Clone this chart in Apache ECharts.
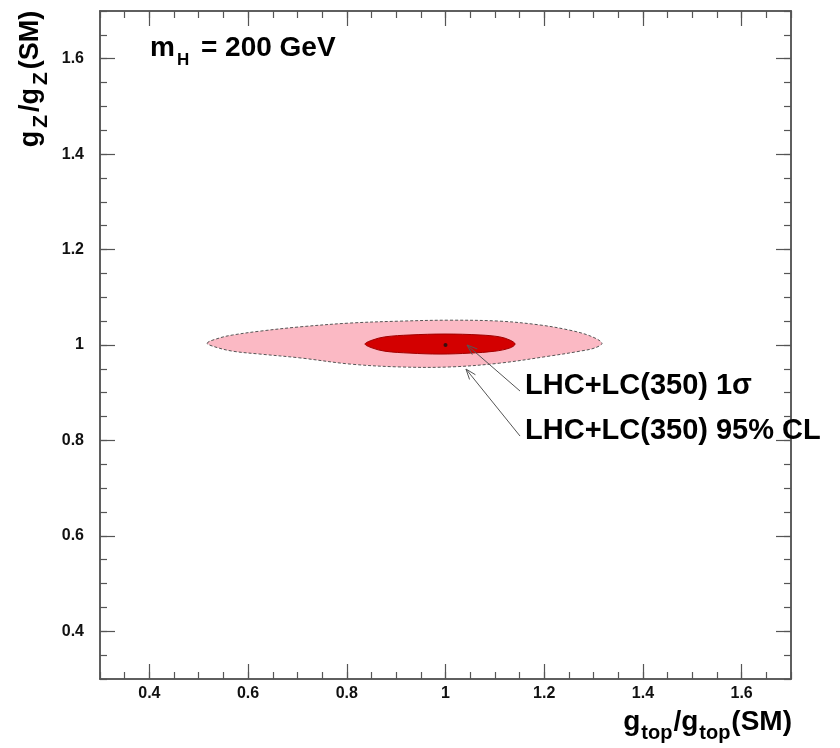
<!DOCTYPE html>
<html>
<head>
<meta charset="utf-8">
<script src="https://cdn.jsdelivr.net/npm/echarts@6/dist/echarts.min.js"></script>
<style>
html, body { margin: 0; padding: 0; background: #fff; }
#chart { width: 840px; height: 748px; }
</style>
</head>
<body>
<div id="chart"></div>
<script>
// tick labels
var xTicks = [0.4, 0.6, 0.8, 1, 1.2, 1.4, 1.6];
var yTicks = [0.4, 0.6, 0.8, 1, 1.2, 1.4, 1.6];

// 95% CL contour (g_top, g_Z)
var contour95 = [
    [0.517, 1.004], [0.543, 1.015], [0.569, 1.021], [0.624, 1.029], [0.705, 1.038],
    [0.807, 1.046], [0.908, 1.050], [1.009, 1.052], [1.110, 1.050], [1.191, 1.042],
    [1.252, 1.031], [1.293, 1.019], [1.317, 1.004], [1.303, 0.994], [1.272, 0.987],
    [1.212, 0.977], [1.110, 0.962], [1.009, 0.954], [0.908, 0.954], [0.807, 0.960],
    [0.705, 0.973], [0.624, 0.981], [0.569, 0.987], [0.533, 0.996]
];
// 1 sigma contour
var contour1s = [
    [0.837, 1.002], [0.851, 1.010], [0.877, 1.017], [0.928, 1.021], [0.999, 1.023],
    [1.070, 1.021], [1.110, 1.017], [1.131, 1.010], [1.141, 1.002], [1.131, 0.994],
    [1.100, 0.987], [1.050, 0.983], [0.989, 0.981], [0.928, 0.983], [0.877, 0.987],
    [0.851, 0.994]
];
// SM point
var smPoint = [[1, 1]];

var noteLabels = ['LHC+LC(350) 1σ', 'LHC+LC(350) 95% CL'];
// [from x, from y, to x, to y]
var noteArrows = [[1.151, 0.9035, 1.0435, 1.000], [1.151, 0.8092, 1.0415, 0.9496]];

var FONT = 'Liberation Sans, Arial, Helvetica, sans-serif';
var AXIS_COLOR = '#555';

function makeAxis(pos, major, withLabels, ticks, margin) {
    var ax = {
        type: 'value',
        position: pos,
        min: 0.3,
        max: 1.7,
        splitLine: { show: false },
        axisLine: { show: true, onZero: false, lineStyle: { color: AXIS_COLOR, width: 1.5 } },
        axisTick: { show: true, inside: true, length: major ? 15 : 7, lineStyle: { color: AXIS_COLOR, width: 1.2 } },
        axisLabel: { show: false }
    };
    if (major) {
        ax.axisTick.customValues = ticks;
        ax.axisLabel = {
            show: withLabels,
            customValues: ticks,
            fontFamily: FONT,
            fontWeight: 'bold',
            fontSize: 16,
            color: '#111',
            margin: margin
        };
    } else {
        ax.interval = 0.05;
    }
    return ax;
}

function contourRender(points, fill, stroke, dash) {
    return function (params, api) {
        if (params.dataIndex !== 0) return null;
        var pts = points.map(function (p) { return api.coord(p); });
        return {
            type: 'polygon',
            shape: { points: pts, smooth: 0.35 },
            style: { fill: fill, stroke: stroke, lineWidth: 1, lineDash: dash }
        };
    };
}

var myChart = echarts.init(document.getElementById('chart'));

var option = {
    animation: false,
    backgroundColor: '#fff',
    grid: { left: 100, right: 49, top: 11, bottom: 69 },
    xAxis: [
        makeAxis('bottom', true, true, xTicks, 7),
        makeAxis('bottom', false),
        makeAxis('top', true, false, xTicks),
        makeAxis('top', false)
    ],
    yAxis: [
        makeAxis('left', true, true, yTicks, 16),
        makeAxis('left', false),
        makeAxis('right', true, false, yTicks),
        makeAxis('right', false)
    ],
    graphic: [
        {
            type: 'text', x: 150, y: 48,
            style: {
                text: '{m|m}{s|H}{m| = 200 GeV}',
                align: 'left', verticalAlign: 'middle',
                fill: '#000',
                rich: {
                    m: { fontSize: 28, fontWeight: 'bold', fontFamily: FONT, fill: '#000', verticalAlign: 'middle' },
                    s: { fontSize: 17, fontWeight: 'bold', fontFamily: FONT, fill: '#000', verticalAlign: 'middle', padding: [25, 4, 0, 2] }
                }
            }
        },
        {
            type: 'text', x: 792, y: 722,
            style: {
                text: '{m|g}{s|top}{m|/g}{s|top}{m|(SM)}',
                align: 'right', verticalAlign: 'middle',
                fill: '#000',
                rich: {
                    m: { fontSize: 28, fontWeight: 'bold', fontFamily: FONT, fill: '#000', verticalAlign: 'middle' },
                    s: { fontSize: 20, fontWeight: 'bold', fontFamily: FONT, fill: '#000', verticalAlign: 'middle', padding: [22, 1, 0, 1] }
                }
            }
        },
        {
            type: 'text', x: 31, y: 79, rotation: Math.PI / 2,
            style: {
                text: '{m|g}{s|Z}{m|/g}{s|Z}{m|(SM)}',
                align: 'center', verticalAlign: 'middle',
                fill: '#000',
                rich: {
                    m: { fontSize: 27, fontWeight: 'bold', fontFamily: FONT, fill: '#000', verticalAlign: 'middle' },
                    s: { fontSize: 21, fontWeight: 'bold', fontFamily: FONT, fill: '#000', verticalAlign: 'middle', padding: [20, 3, 0, 3] }
                }
            }
        }
    ],
    series: [
        {
            name: '95% CL',
            type: 'custom',
            data: contour95,
            encode: { x: 0, y: 1 },
            renderItem: contourRender(contour95, '#fbb9c4', '#555', [3, 2]),
            z: 2
        },
        {
            name: '1 sigma',
            type: 'custom',
            data: contour1s,
            encode: { x: 0, y: 1 },
            renderItem: contourRender(contour1s, '#d30000', '#a00000', null),
            z: 3
        },
        {
            name: 'SM',
            type: 'scatter',
            data: smPoint,
            symbol: 'circle',
            symbolSize: 4,
            itemStyle: { color: '#111' },
            z: 4
        },
        {
            name: 'notes',
            type: 'custom',
            data: noteArrows,
            encode: { x: [0, 2], y: [1, 3] },
            z: 5,
            renderItem: function (params, api) {
                var p0 = api.coord([api.value(0), api.value(1)]);
                var p1 = api.coord([api.value(2), api.value(3)]);
                var ang = Math.atan2(p1[1] - p0[1], p1[0] - p0[0]);
                var h = 11, w = 0.35;
                var a1 = [p1[0] - h * Math.cos(ang - w), p1[1] - h * Math.sin(ang - w)];
                var a2 = [p1[0] - h * Math.cos(ang + w), p1[1] - h * Math.sin(ang + w)];
                return {
                    type: 'group',
                    children: [
                        { type: 'line', shape: { x1: p0[0], y1: p0[1], x2: p1[0], y2: p1[1] }, style: { stroke: '#555', lineWidth: 1 } },
                        { type: 'polyline', shape: { points: [a1, p1, a2] }, style: { stroke: '#555', fill: null, lineWidth: 1 } },
                        {
                            type: 'text', x: p0[0] + 5, y: p0[1] - 5,
                            style: {
                                text: noteLabels[params.dataIndex],
                                fontSize: 29, fontWeight: 'bold', fontFamily: FONT,
                                fill: '#000', align: 'left', verticalAlign: 'middle'
                            }
                        }
                    ]
                };
            }
        }
    ]
};

myChart.setOption(option);
</script>
</body>
</html>
